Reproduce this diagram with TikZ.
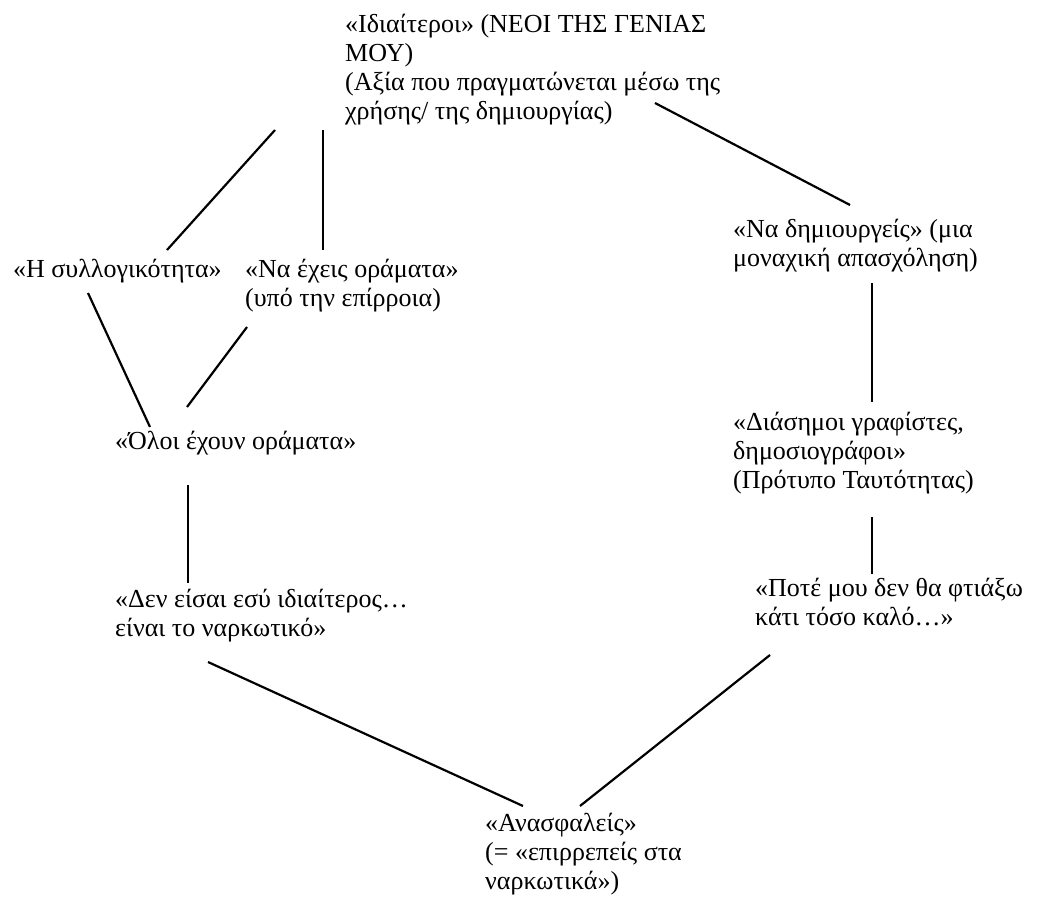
\documentclass[tikz,border=0pt]{standalone}
\usepackage{fontspec}
\setmainfont{Liberation Serif}
\begin{document}
\begin{tikzpicture}[x=1pt,y=-1pt,
  lbl/.style={anchor=north west,inner sep=0pt,align=left,
    font=\fontsize{26}{29}\selectfont},
  conn/.style={line width=2.2pt,black}]
\useasboundingbox (0,0) rectangle (1041,910);
\def\fs{\rule{0pt}{21pt}}
\node[lbl] (top) at (345,11) {\fs«Ιδιαίτεροι» (ΝΕΟΙ ΤΗΣ ΓΕΝΙΑΣ\\ΜΟΥ)\\(Αξία που πραγματώνεται μέσω της\\χρήσης/ της δημιουργίας)};
\node[lbl] (hs) at (13,256) {\fs«Η συλλογικότητα»};
\node[lbl] (ne) at (245,256) {\fs«Να έχεις οράματα»\\(υπό την επίρροια)};
\node[lbl] (ol) at (115,428) {\fs«Όλοι έχουν οράματα»};
\node[lbl] (de) at (115,586) {\fs«Δεν είσαι εσύ ιδιαίτερος…\\είναι το ναρκωτικό»};
\node[lbl] (an) at (485,810) {\fs«Ανασφαλείς»\\(= «επιρρεπείς στα\\ναρκωτικά»)};
\node[lbl] (nd) at (733,216) {\fs«Να δημιουργείς» (μια\\μοναχική απασχόληση)};
\node[lbl] (di) at (733,409) {\fs«Διάσημοι γραφίστες,\\δημοσιογράφοι»\\(Πρότυπο Ταυτότητας)};
\node[lbl] (po) at (755,575) {\fs«Ποτέ μου δεν θα φτιάξω\\κάτι τόσο καλό…»};
% connectors
\draw[conn] ([shift={(-70,119)}]top.north west) -- ([shift={(154,-6)}]hs.north west);
\draw[conn] ([shift={(-22,119)}]top.north west) -- ([shift={(78,-6)}]ne.north west);
\draw[conn] ([shift={(310,92)}]top.north west) -- ([shift={(117,-11)}]nd.north west);
\draw[conn] ([shift={(75,37)}]hs.north west) -- ([shift={(35,-1)}]ol.north west);
\draw[conn] ([shift={(2,71)}]ne.north west) -- ([shift={(72,-21)}]ol.north west);
\draw[conn] ([shift={(73,57)}]ol.north west) -- ([shift={(73,-3)}]de.north west);
\draw[conn] ([shift={(93,76)}]de.north west) -- ([shift={(38,-4)}]an.north west);
\draw[conn] ([shift={(15,80)}]po.north west) -- ([shift={(95,-4)}]an.north west);
\draw[conn] ([shift={(139,67)}]nd.north west) -- ([shift={(139,-7)}]di.north west);
\draw[conn] ([shift={(139,108)}]di.north west) -- ([shift={(117,-1)}]po.north west);
\end{tikzpicture}
\end{document}
